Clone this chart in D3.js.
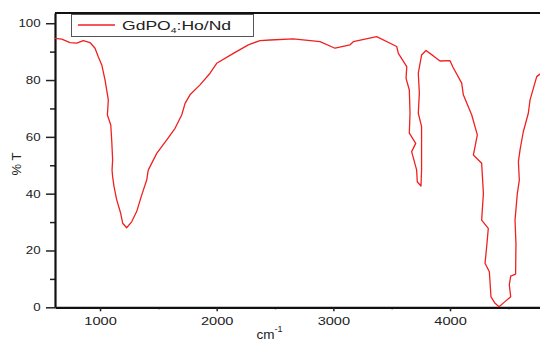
<!DOCTYPE html>
<html>
<head>
<meta charset="utf-8">
<script src="https://cdn.jsdelivr.net/npm/d3@7"></script>
<style>
  body { margin: 0; background: #fff; }
  svg { display: block; }
  text { font-family: "Liberation Sans", Arial, sans-serif; fill: #222; }
</style>
</head>
<body>
<div id="chart"></div>
<script>
// spectrum, traced in drawing order (wavenumber, %T)
const wavenumber = [614, 672, 743, 800, 857, 914, 957, 985, 1015, 1043, 1071, 1063, 1092, 1100, 1108,
  1103, 1108, 1120, 1143, 1177, 1194, 1228, 1271, 1314, 1357, 1400, 1413, 1486, 1572, 1643, 1700,
  1729, 1771, 1857, 1943, 2000, 2143, 2271, 2371, 2457, 2657, 2886, 3014, 3143, 3171, 3371, 3543,
  3557, 3629, 3623, 3651, 3657, 3651, 3706, 3671, 3714, 3719, 3751, 3756, 3756, 3728, 3737, 3728,
  3756, 3794, 3857, 3914, 4000, 4023, 4100, 4114, 4186, 4234, 4200, 4271, 4286, 4271, 4328, 4314,
  4300, 4337, 4351, 4386, 4420, 4471, 4520, 4508, 4520, 4562, 4565, 4557, 4577, 4594, 4586, 4600,
  4628, 4671, 4686, 4743, 4771, 4800];
const transmittance = [94.7, 94.4, 93.2, 93.0, 93.9, 93.2, 91.2, 88.2, 85.3, 80.0, 73.0, 67.7, 64.2, 58.9, 51.9,
  48.3, 46.0, 42.5, 37.8, 33.1, 29.6, 28.0, 30.1, 33.7, 39.5, 44.8, 48.3, 54.2, 58.9, 63.0, 67.7,
  71.8, 74.8, 78.3, 82.4, 85.9, 89.4, 92.4, 93.9, 94.1, 94.5, 93.5, 91.2, 92.4, 93.5, 95.3, 91.8,
  89.4, 84.7, 80.6, 76.5, 68.3, 61.3, 57.7, 54.8, 48.3, 44.2, 42.7, 48.3, 63.6, 68.3, 75.4, 82.4,
  88.8, 90.4, 88.5, 86.7, 86.8, 84.7, 78.9, 74.8, 67.7, 60.7, 53.6, 50.7, 40.1, 30.7, 27.8, 21.3,
  15.5, 12.5, 3.7, 1.4, 0.2, 2.0, 3.7, 7.9, 11.0, 11.7, 22.5, 30.7, 40.1, 44.8, 51.3, 55.4,
  61.8, 68.3, 73.0, 81.2, 82.1, 82.5];
const xTicks = [1000, 2000, 3000, 4000];
const xMinor = [1500, 2500, 3500, 4500];
const yTicks = [0, 20, 40, 60, 80, 100];
const yMinor = [10, 30, 50, 70, 90];
const seriesName = "GdPO";

const width = 540, height = 341;
const mLeft = 55, mTop = 13, mBottom = 307.3;

const svg = d3.select("#chart").append("svg")
  .attr("width", width)
  .attr("height", height);

const x = d3.scaleLinear().domain([614, 4800]).range([mLeft, mLeft + (4800 - 614) * 0.116667]);
const y = d3.scaleLinear().domain([0, 103.6]).range([mBottom, mTop]);

// minor ticks first
svg.append("g")
  .attr("transform", `translate(${mLeft},0)`)
  .call(d3.axisLeft(y).tickValues(yMinor).tickSize(5).tickFormat(""))
  .call(g => g.select(".domain").remove())
  .selectAll("line").attr("stroke", "#222").attr("stroke-width", 1.5);

svg.append("g")
  .attr("transform", `translate(0,${mBottom})`)
  .call(d3.axisBottom(x).tickValues(xMinor).tickSize(2).tickFormat(""))
  .call(g => g.select(".domain").remove())
  .selectAll("line").attr("stroke", "#222").attr("stroke-width", 1.5);

// y axis
const gy = svg.append("g")
  .attr("transform", `translate(${mLeft},0)`)
  .call(d3.axisLeft(y).tickValues(yTicks).tickSize(9).tickSizeOuter(0).tickFormat(d3.format("d")));
gy.select(".domain").attr("stroke", "#111").attr("stroke-width", 2.2);
gy.selectAll(".tick line").attr("stroke", "#222").attr("stroke-width", 1.5);
gy.selectAll(".tick text")
  .attr("x", -11.3)
  .attr("transform", "scale(1.27,1)")
  .style("font-size", "10.5px");

// x axis
const gx = svg.append("g")
  .attr("transform", `translate(0,${mBottom})`)
  .call(d3.axisBottom(x).tickValues(xTicks).tickSize(4).tickSizeOuter(0).tickFormat(d3.format("d")));
gx.select(".domain").attr("stroke", "#111").attr("stroke-width", 2.2);
gx.selectAll(".tick line").attr("stroke", "#222").attr("stroke-width", 1.5);
gx.selectAll(".tick text")
  .attr("y", 10)
  .attr("transform", "scale(1.27,1)")
  .style("font-size", "11.5px");

// top frame
svg.append("line")
  .attr("x1", mLeft).attr("x2", width)
  .attr("y1", mTop).attr("y2", mTop)
  .attr("stroke", "#111").attr("stroke-width", 2.2);

// axis titles
svg.append("text")
  .attr("transform", "translate(21,164) rotate(-90)")
  .attr("text-anchor", "middle")
  .style("font-size", "13px")
  .text("% T");

const xl = svg.append("text")
  .attr("x", 256.5).attr("y", 339)
  .style("font-size", "13.5px");
xl.append("tspan").text("cm");
xl.append("tspan").attr("dy", -7).style("font-size", "9px").text("-1");

// spectrum line
const line = d3.line()
  .x((d, i) => x(wavenumber[i]))
  .y(d => y(d));

svg.append("defs").append("clipPath").attr("id", "clip")
  .append("rect").attr("x", mLeft).attr("y", mTop).attr("width", width - mLeft).attr("height", mBottom - mTop);

svg.append("path")
  .datum(transmittance)
  .attr("clip-path", "url(#clip)")
  .attr("fill", "none")
  .attr("stroke", "#f02020")
  .attr("stroke-width", 1.3)
  .attr("stroke-linejoin", "round")
  .attr("d", line);

// legend
const lg = svg.append("g");
lg.append("rect")
  .attr("x", 71.5).attr("y", 14.5).attr("width", 182).attr("height", 22)
  .attr("fill", "#fff").attr("stroke", "#555").attr("stroke-width", 1);
lg.append("line")
  .attr("x1", 78).attr("x2", 115).attr("y1", 25).attr("y2", 25)
  .attr("stroke", "#f02020").attr("stroke-width", 1.3);
const lt = lg.append("text")
  .attr("transform", "translate(122,29.5) scale(1.3,1)")
  .style("font-size", "13.5px");
lt.append("tspan").text(seriesName);
lt.append("tspan").attr("dy", 3).style("font-size", "8px").text("4");
lt.append("tspan").attr("dy", -3).text(":Ho/Nd");
</script>
</body>
</html>
